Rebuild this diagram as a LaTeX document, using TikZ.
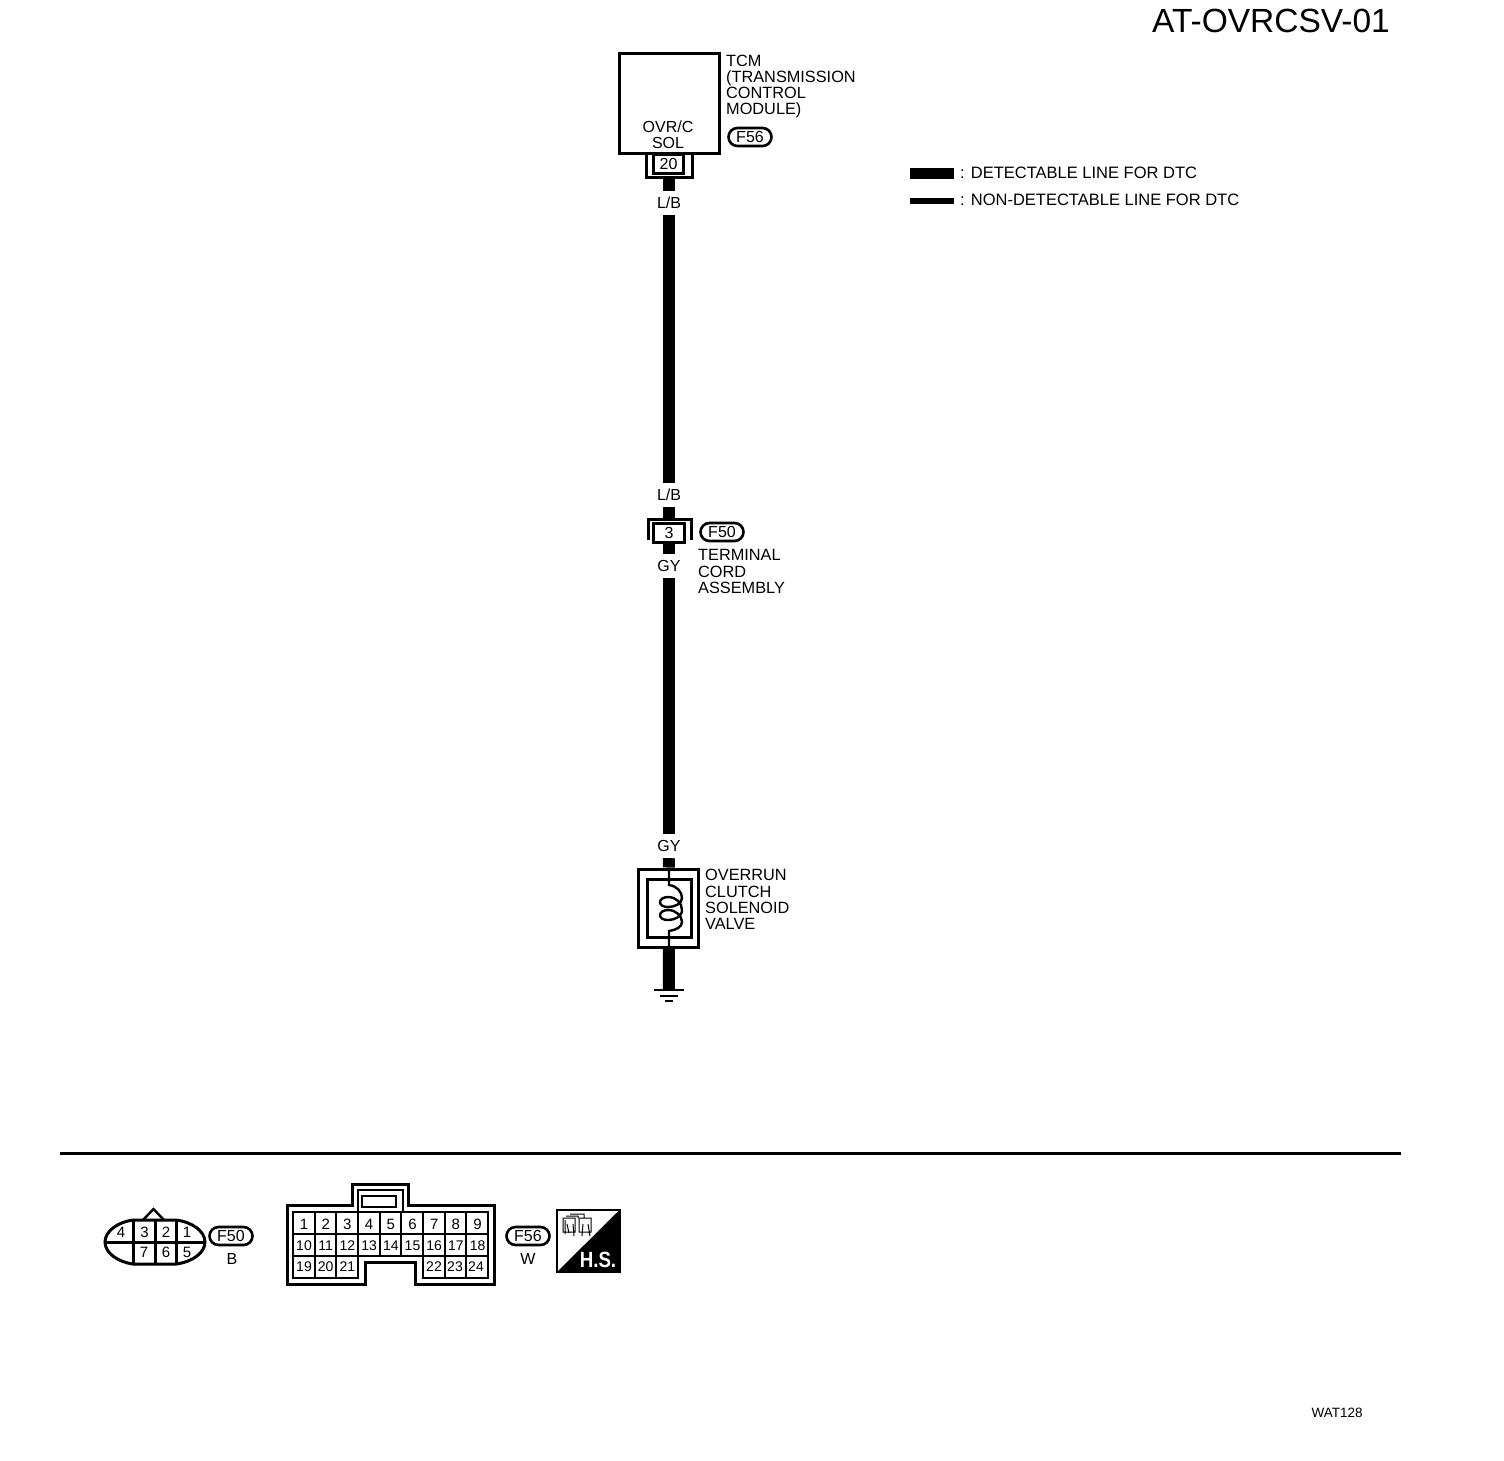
\documentclass[tikz,border=0pt]{standalone}
\usepackage{fontspec}
\setmainfont{Liberation Sans}
\begin{document}
\begin{tikzpicture}[x=1pt,y=-1pt,
  lbl/.style={font=\fontsize{16.3}{16.3}\selectfont,inner sep=0pt,align=left,anchor=west},
  wirelbl/.style={font=\fontsize{16}{16}\selectfont,inner sep=0pt,minimum height=24pt,minimum width=20pt},
  pill/.style={draw,line width=2.6pt,rounded corners=9pt,minimum width=43pt,minimum height=18pt,inner sep=0pt,font=\fontsize{16}{16}\selectfont},
  box/.style={draw,line width=3pt,inner sep=0pt},
  wire/.style={line width=12pt},
  thinw/.style={line width=2.4pt},
  cellnum/.style={font=\fontsize{15}{15}\selectfont,inner sep=0pt},
  grid/.style={line width=2.4pt}]
\useasboundingbox (0,0) rectangle (1504,1460);
% title
\node[font=\fontsize{33.5}{33}\selectfont,inner sep=0pt,anchor=east] (title) at (1390,21) {AT-OVRCSV-01};
% TCM
\node[box,minimum width=100pt,minimum height=100pt] (tcm) at (669,103) {};
\node[font=\fontsize{16}{16.5}\selectfont,inner sep=0pt,align=center,anchor=south] (sol) at (668,149) {OVR/C\\SOL};
\node[lbl] (tcmlbl) at (726,86.5) {TCM\\(TRANSMISSION\\CONTROL\\MODULE)};
\node[pill] (f56a) at (750,137) {F56};
% connector 20
\node[draw,line width=3pt,minimum width=30pt,minimum height=19pt,inner sep=0pt,font=\fontsize{16}{16}\selectfont] (c20) at (668.5,164) {20};
\draw[line width=3pt] (646,155) -- (646,177) -- (692,177) -- (692,155);
\coordinate (c20b) at (669,178);
\node[wirelbl] (lb1) at (669,203) {L/B};
\draw[wire] (c20b) -- (lb1);
\node[wirelbl] (lb2) at (669,495) {L/B};
\draw[wire] (lb1) -- (lb2);
% connector 3
\node[draw,line width=3pt,minimum width=31pt,minimum height=19pt,inner sep=0pt,font=\fontsize{16}{16}\selectfont] (c3) at (669,533) {3};
\draw[line width=3pt] (648,540) -- (648,519) -- (691,519) -- (691,540);
\coordinate (c3t) at (669,518);
\draw[wire] (lb2) -- (c3t);
\node[wirelbl] (gy1) at (669,566) {GY};
\draw[wire] (c3) -- (gy1);
\node[pill] (f50a) at (722,532) {F50};
\node[lbl] (cordlbl) at (698,571.5) {TERMINAL\\CORD\\ASSEMBLY};
\node[wirelbl] (gy2) at (669,846) {GY};
\draw[wire] (gy1) -- (gy2);
% solenoid
\node[box,minimum width=60pt,minimum height=78pt] (solo) at (668.5,908) {};
\node[box,minimum width=44pt,minimum height=58pt] (soli) at (669,908) {};
\draw[wire] (gy2) -- (solo);
\draw[thinw] (669,869) -- (669,885)
  .. controls (677,886) and (682,892) .. (682,898)
  .. controls (682,904) and (674,907) .. (668,907)
  .. controls (663,907) and (660,905) .. (660,902)
  .. controls (660,899) and (664,897) .. (668,897)
  .. controls (676,897) and (682,903) .. (682,910)
  .. controls (682,917) and (674,920) .. (668,920)
  .. controls (663,920) and (660,918) .. (660,915)
  .. controls (660,912) and (664,910) .. (668,910)
  .. controls (676,910) and (682,916) .. (682,922)
  .. controls (682,927) and (676,930) .. (669,931) -- (669,948);
\coordinate (gnd) at (669,990);
\draw[wire] (solo) -- (gnd);
\node[lbl] (sollbl) at (705,899.5) {OVERRUN\\CLUTCH\\SOLENOID\\VALVE};
\draw[line width=2.4pt] (654,990) -- (684,990) (660,996) -- (678,996) (665,1001) -- (673,1001);
% legend
\coordinate (l1a) at (910,173); \coordinate (l1b) at (954,173);
\coordinate (l2a) at (910,201); \coordinate (l2b) at (954,201);
\draw[line width=11pt] (l1a) -- (l1b);
\draw[line width=6pt] (l2a) -- (l2b);
\node[lbl,font=\fontsize{16.5}{16.5}\selectfont] (leg1) at (960,173) {: DETECTABLE LINE FOR DTC};
\node[lbl,font=\fontsize{16.5}{16.5}\selectfont] (leg2) at (960,200) {: NON-DETECTABLE LINE FOR DTC};
% separator
\coordinate (s1) at (60,1153); \coordinate (s2) at (1401,1153);
\draw[line width=3pt] (s1) -- (s2);
% F50 connector
\draw[line width=3pt] (133,1220) -- (176,1220) .. controls (192,1222) and (205,1231) .. (205,1242)
  .. controls (205,1253) and (192,1262) .. (176,1264) -- (133,1264)
  .. controls (118,1262) and (105,1253) .. (105,1242) .. controls (105,1231) and (118,1222) .. (133,1220) -- cycle;
\draw[line width=2.4pt] (143,1220) -- (153.5,1209) -- (164,1220);
\draw[line width=3pt] (133,1220) -- (133,1264) (155,1220) -- (155,1264) (176,1220) -- (176,1264) (105,1242) -- (205,1242);
\foreach \n/\x/\y in {4/121/1232,3/144.5/1232,2/166/1232,1/187/1232,7/144/1252,6/166/1252,5/187/1252}
  \node[cellnum] (p50\n) at (\x,\y) {\n};
\node[pill] (f50b) at (231,1236) {F50};
\node[font=\fontsize{16}{16}\selectfont,inner sep=0pt] (b) at (232,1259) {B};
% F56 connector
\draw[line width=3pt] (287,1205) -- (352,1205) -- (352,1184) -- (408,1184) -- (408,1205) -- (494,1205) -- (494,1284) -- (415,1284) -- (415,1262) -- (365,1262) -- (365,1284) -- (287,1284) -- cycle;
\draw[line width=2.4pt] (358,1212) -- (358,1190) -- (403,1190) -- (403,1212);
\draw[line width=2.4pt] (362,1196) rectangle (396,1207);
\draw[grid] (293,1212) -- (488,1212) -- (488,1278) -- (423,1278) -- (423,1256) -- (358,1256) -- (358,1278) -- (293,1278) -- cycle;
\draw[grid] (293,1234) -- (488,1234) (293,1256) -- (358,1256) (423,1256) -- (488,1256);
\foreach \x in {315,336,358,380,401,423,445,466} \draw[grid] (\x,1212) -- (\x,1256);
\foreach \x in {315,336} \draw[grid] (\x,1256) -- (\x,1278);
\foreach \x in {445,466} \draw[grid] (\x,1256) -- (\x,1278);
\foreach \n [count=\i from 0] in {1,...,9} \node[cellnum] (q\n) at (304+21.7*\i,1224) {\n};
\foreach \n [count=\i from 0] in {10,...,18} \node[cellnum,font=\fontsize{14}{14}\selectfont] (q\n) at (304+21.7*\i,1246) {\n};
\foreach \n [count=\i from 0] in {19,20,21} \node[cellnum,font=\fontsize{14}{14}\selectfont] (q\n) at (304+21.7*\i,1267) {\n};
\foreach \n [count=\i from 0] in {22,23,24} \node[cellnum,font=\fontsize{14}{14}\selectfont] (q\n) at (434+21*\i,1267) {\n};
\node[pill] (f56b) at (528,1236) {F56};
\node[font=\fontsize{16}{16}\selectfont,inner sep=0pt] (w) at (528,1259) {W};
% H.S. icon
\draw[line width=2pt] (557,1210) rectangle (619.5,1272);
\fill (557,1272) -- (619.5,1210) -- (619.5,1272) -- cycle;
\node[text=white,font=\bfseries\fontsize{22}{22}\selectfont,inner sep=0pt,xscale=0.85] (hs) at (598,1260) {H.S.};
\draw[line width=1pt] (563,1218) rectangle (575,1232) (566,1216) -- (578,1216) -- (578,1218) (579,1218) rectangle (591,1232)
  (570,1214) -- (584,1214) -- (584,1218) (565,1220) -- (565,1234) (567,1224) -- (569,1233) (573,1224) -- (574,1236) (583,1224) -- (582,1236) (588,1224) -- (590,1236);
\node[font=\fontsize{13.5}{13.5}\selectfont,inner sep=0pt] (wat) at (1337,1413) {WAT128};
\end{tikzpicture}
\end{document}
